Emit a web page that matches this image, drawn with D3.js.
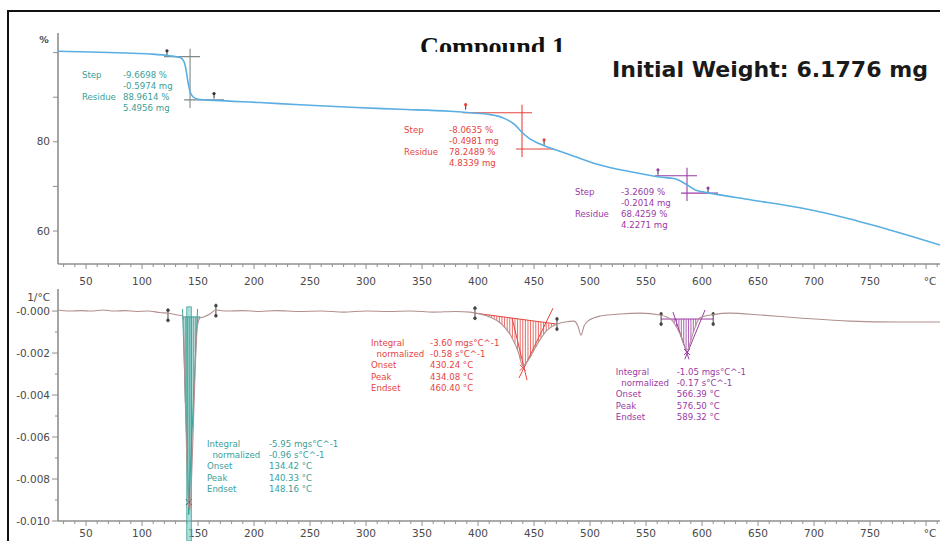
<!DOCTYPE html>
<html><head><meta charset="utf-8">
<script src="https://cdn.jsdelivr.net/npm/d3@7"></script>
<style>body{margin:0;background:#fff;overflow:hidden} svg{display:block}</style>
</head><body><svg id="c" width="940" height="541"></svg>
<script>
// ---------- DATA ----------
const title = "Compound 1";
const weightLabel = "Initial Weight: 6.1776 mg";
const tgaUnit = "%";
const dtgUnit = "1/°C";
const xUnit = "°C";

// TGA curve: temperature (°C) and weight (%)
const tgaT = [25,45,62.5,85,107,125,134,137.5,139.3,141,143,145.5,150,165,205,241,286,330,375,393,411,424,433,439,446,455,464,482,509,536,562.5,576,585,594,607,643,687.5,732,777,812.5];
const tgaW = [100.3,100.2,100.1,99.9,99.7,99.3,98.9,98.0,96.2,93.5,91.2,90.1,89.55,89.3,88.8,88.3,87.75,87.3,86.85,86.5,86.1,85.2,83.8,82.2,80.7,79.55,78.65,77.1,74.8,73.3,72.1,71.7,70.6,69.2,68.5,67.0,65.2,62.7,59.55,56.85];

// DTG curve: temperature (°C) and derivative (1/°C)
const dtgT = [25,35,45,55,65,75,85,95,105,116,125,132,136.6,138.4,140.2,141.5,142.9,144.2,146.0,147.8,149.6,151.8,155,160.7,166,175,190,205,220,240,260,280,300,320,340,360,380,393,402,411,420,429,436,440,446,454,462,470.5,478,485.7,489.3,492,494.6,498,509,527,545,562.5,573,580,586.6,592,598,610,625,652,687,732,777,812.5];
const dtgV = [0.00005,0,0.00002,0,0.00005,0,0.00002,-0.00002,0,-0.00007,-0.00012,-0.00019,-0.00024,-0.00376,-0.00733,-0.00924,-0.00948,-0.00805,-0.00519,-0.00233,-0.00067,-0.00033,-0.00028,-0.00014,0.00005,0,0.00002,-0.00002,0.00002,-0.00002,0,-0.00005,0,-0.00002,0,-0.00005,-0.00002,-0.00005,-0.00014,-0.00029,-0.00057,-0.00114,-0.00195,-0.00262,-0.00224,-0.00148,-0.0009,-0.00062,-0.00052,-0.00048,-0.00072,-0.00115,-0.00072,-0.00048,-0.00024,-0.00014,-0.0001,-0.00019,-0.00043,-0.00105,-0.00186,-0.00105,-0.00033,-0.00017,-0.0001,-0.00019,-0.00033,-0.00048,-0.00052,-0.00052];

// Axis ticks
const xTickValues = [50,100,150,200,250,300,350,400,450,500,550,600,650,700,750];
const xTickLabels = ["50","100","150","200","250","300","350","400","450","500","550","600","650","700","750"];
const tgaTickValues = [60,80];
const tgaTickLabels = ["60","80"];
const tgaMinorTicks = [60,70,80,90,100];
const dtgTickValues = [0,-0.002,-0.004,-0.006,-0.008,-0.010];
const dtgTickLabels = ["-0.000","-0.002","-0.004","-0.006","-0.008","-0.010"];
const dtgMinorTicks = [-0.001,-0.003,-0.005,-0.007,-0.009];

// TGA step evaluations
const stepNames = ["Step","","Residue",""];
const step1Values = ["-9.6698 %","-0.5974 mg","88.9614 %","5.4956 mg"];
const step2Values = ["-8.0635 %","-0.4981 mg","78.2489 %","4.8339 mg"];
const step3Values = ["-3.2609 %","-0.2014 mg","68.4259 %","4.2271 mg"];
// limits [T start, W start, T end, W end], crosshair [T, W upper, W lower]
const step1Limits = [122.3,99.3,164.3,89.7];
const step2Limits = [389,87.2,459,79.3];
const step3Limits = [560.7,72.6,605.4,68.5];
const step1Cross = [142.9,99.1,89.4];
const step2Cross = [439.3,86.5,78.4];
const step3Cross = [586.6,72.4,68.5];

// DTG peak evaluations
const peakNames = ["Integral","  normalized","Onset","Peak","Endset"];
const peak1Values = ["-5.95 mgs°C^-1","-0.96 s°C^-1","134.42 °C","140.33 °C","148.16 °C"];
const peak2Values = ["-3.60 mgs°C^-1","-0.58 s°C^-1","430.24 °C","434.08 °C","460.40 °C"];
const peak3Values = ["-1.05 mgs°C^-1","-0.17 s°C^-1","566.39 °C","576.50 °C","589.32 °C"];
// limits [T start, base start, T end, base end]
const peak1Limits = [123.2,-0.0002,166,0.00002];
const peak2Limits = [397.3,-0.0001,470.5,-0.00062];
const peak3Limits = [563.5,-0.00038,610,-0.00038];
const peak1Base = [136,-0.00028,152,-0.00028];
const peak3Base = [563.5,-0.00038,610,-0.00038];
// tangents [T1,V1,T2,V2]
const peak1Tangents = [[136.2,0.0001,142.0,-0.0097],[149.6,0.0001,141.4,-0.0097]];
const peak2Tangents = [[467,0.00014,436.6,-0.00319],[430.4,-0.00033,443.8,-0.00329]];
const peak3Tangents = [[574.1,-0.00005,588.4,-0.0023],[602.7,0.00005,584.6,-0.0023]];
const peakX = [[141.8,-0.0091],[440,-0.0027],[586.6,-0.00195]];
const peak1Band = [140.0,144.0];

// ---------- DRAW ----------
const svg = d3.select("#c");
const W = 940, H = 541;
const colTeal = "#3aa099", colRed = "#e6443e", colPurple = "#9b3aa5";
const axisCol = "#8f8f8f", textCol = "#4a4a4a";
const fontAx = "DejaVu Sans, Verdana, sans-serif";

const x = d3.scaleLinear().domain([25, 812.5]).range([58, 940]);
const yT = d3.scaleLinear().domain([52.6, 104.4]).range([264, 33]);
const yD = d3.scaleLinear().domain([-0.010, 0.00105]).range([521, 289]);

// frame
svg.append("line").attr("x1",8).attr("x2",W).attr("y1",11).attr("y2",11).attr("stroke","#111").attr("stroke-width",2);
svg.append("line").attr("x1",8).attr("x2",8).attr("y1",10).attr("y2",H).attr("stroke","#111").attr("stroke-width",2);

// title (clipped)
svg.append("clipPath").attr("id","tclip").append("rect").attr("x",380).attr("y",20).attr("width",220).attr("height",32);
svg.append("text").attr("clip-path","url(#tclip)").attr("x",420).attr("y",55)
  .attr("font-family","Liberation Serif, Times New Roman, serif").attr("font-weight","bold")
  .attr("font-size",25).attr("textLength",145).attr("lengthAdjust","spacingAndGlyphs").attr("fill","#111").text(title);
svg.append("text").attr("x",612).attr("y",77)
  .attr("font-family","DejaVu Sans, Verdana, sans-serif").attr("font-weight","bold")
  .attr("font-size",22).attr("textLength",316).attr("lengthAdjust","spacingAndGlyphs").attr("fill","#1a1a1a").text(weightLabel);

function drawXAxis(y0, labelY){
  const g = svg.append("g");
  g.append("line").attr("x1",58).attr("x2",W).attr("y1",y0).attr("y2",y0).attr("stroke",axisCol).attr("stroke-width",1.6);
  const minor = d3.range(30, 811, 10);
  g.selectAll("line.mn").data(minor).join("line").attr("class","mn")
    .attr("x1",d=>x(d)).attr("x2",d=>x(d)).attr("y1",y0).attr("y2",d=> y0 + (d%50===0?5:3))
    .attr("stroke",axisCol).attr("stroke-width",1);
  g.selectAll("text").data(xTickValues).join("text")
    .attr("x",d=>x(d)).attr("y",labelY).attr("text-anchor","middle")
    .attr("font-family",fontAx).attr("font-size",10.5).attr("fill",textCol)
    .text((d,i)=>xTickLabels[i]);
  g.append("text").attr("x",x(800)+4).attr("y",labelY).attr("text-anchor","middle")
    .attr("font-family",fontAx).attr("font-size",10.5).attr("fill",textCol).text(xUnit);
}

// ----- top panel axes -----
svg.append("line").attr("x1",58).attr("x2",58).attr("y1",33).attr("y2",264).attr("stroke",axisCol).attr("stroke-width",1.6);
svg.selectAll("line.tmn").data(tgaMinorTicks).join("line").attr("class","tmn")
  .attr("x1",53).attr("x2",58).attr("y1",d=>yT(d)).attr("y2",d=>yT(d)).attr("stroke",axisCol);
svg.selectAll("text.tyl").data(tgaTickValues).join("text").attr("class","tyl")
  .attr("x",50).attr("y",d=>yT(d)).attr("dy","0.35em").attr("text-anchor","end")
  .attr("font-family",fontAx).attr("font-size",10.5).attr("fill",textCol).text((d,i)=>tgaTickLabels[i]);
svg.append("text").attr("x",44).attr("y",40).attr("dy","0.35em").attr("text-anchor","middle")
  .attr("font-family",fontAx).attr("font-size",9.5).attr("font-weight","bold").attr("fill",textCol).text(tgaUnit);
drawXAxis(264, 285);

// ----- bottom panel axes -----
svg.append("line").attr("x1",58).attr("x2",58).attr("y1",289).attr("y2",521).attr("stroke",axisCol).attr("stroke-width",1.6);
svg.selectAll("line.dmj").data(dtgTickValues).join("line").attr("class","dmj")
  .attr("x1",52).attr("x2",58).attr("y1",d=>yD(d)).attr("y2",d=>yD(d)).attr("stroke",axisCol);
svg.selectAll("line.dmn").data(dtgMinorTicks).join("line").attr("class","dmn")
  .attr("x1",55).attr("x2",58).attr("y1",d=>yD(d)).attr("y2",d=>yD(d)).attr("stroke",axisCol);
svg.selectAll("text.dyl").data(dtgTickValues).join("text").attr("class","dyl")
  .attr("x",50).attr("y",d=>yD(d)).attr("dy","0.35em").attr("text-anchor","end")
  .attr("font-family",fontAx).attr("font-size",10.5).attr("fill",textCol).text((d,i)=>dtgTickLabels[i]);
svg.append("text").attr("x",50).attr("y",297).attr("dy","0.35em").attr("text-anchor","end")
  .attr("font-family",fontAx).attr("font-size",10.5).attr("fill",textCol).text(dtgUnit);
drawXAxis(521, 537);

// ----- TGA curve -----
const tga = tgaT.map((t,i)=>[t,tgaW[i]]);
const lineT = d3.line().x(d=>x(d[0])).y(d=>yT(d[1])).curve(d3.curveMonotoneX);

function stepAnnot(limits, cross, vals, col, crossCol, textT, textW, dx){
  const g = svg.append("g");
  const xc = x(cross[0]);
  g.append("line").attr("x1",xc).attr("x2",xc).attr("y1",yT(cross[1])-8).attr("y2",yT(cross[2])+8).attr("stroke",crossCol).attr("stroke-width",1.1);
  g.append("line").attr("x1",x(limits[0])-3).attr("x2",xc+10).attr("y1",yT(cross[1])).attr("y2",yT(cross[1])).attr("stroke",crossCol).attr("stroke-width",1.1);
  g.append("line").attr("x1",xc-6).attr("x2",x(limits[2])+10).attr("y1",yT(cross[2])).attr("y2",yT(cross[2])).attr("stroke",crossCol).attr("stroke-width",1.1);
  [[limits[0],limits[1]],[limits[2],limits[3]]].forEach(p=>{
    const px=x(p[0]), py=yT(p[1]);
    g.append("line").attr("x1",px).attr("x2",px).attr("y1",py-5).attr("y2",py).attr("stroke","#333").attr("stroke-width",1);
    g.append("circle").attr("cx",px).attr("cy",py-5).attr("r",1.6).attr("fill",col==colTeal?"#333":col);
  });
  const x0 = x(textT), y0 = yT(textW);
  stepNames.forEach((n,i)=>{
    g.append("text").attr("x",x0).attr("y",y0+i*11).attr("dy","0.35em").attr("font-family",fontAx)
      .attr("font-size",8.6).attr("fill",col).text(n);
    g.append("text").attr("x",x0+dx).attr("y",y0+i*11).attr("dy","0.35em").attr("font-family",fontAx)
      .attr("font-size",8.6).attr("fill",col).text(vals[i]);
  });
}
stepAnnot(step1Limits, step1Cross, step1Values, colTeal, "#7d8a89", 46.4, 95.0, 41);
stepAnnot(step2Limits, step2Cross, step2Values, colRed, colRed, 334, 82.7, 45);
stepAnnot(step3Limits, step3Cross, step3Values, colPurple, colPurple, 486.6, 68.76, 46);

svg.append("path").datum(tga).attr("d",lineT).attr("fill","none").attr("stroke","#5aaee2").attr("stroke-width",1.6);

// ----- DTG -----
const dtg = dtgT.map((t,i)=>[t,dtgV[i]]);
const lineD = d3.line().x(d=>x(d[0])).y(d=>yD(d[1])).curve(d3.curveMonotoneX);
const pathTmp = svg.append("path").datum(dtg).attr("d",lineD).attr("fill","none").attr("stroke","none");
const pnode = pathTmp.node(); const plen = pnode.getTotalLength();
const samples = d3.range(0, plen, 0.5).map(l=>pnode.getPointAtLength(l));
function curveYAt(px){ let best=samples[0]; for(const s of samples){ if(Math.abs(s.x-px)<Math.abs(best.x-px)) best=s; } return best.y; }

function peakAnnot(limits, base, tangents, xm, vals, col, textT, textV, dx, hatchStep, fillCol, band){
  const g = svg.append("g");
  const bx1=x(base[0]), by1=yD(base[1]), bx2=x(base[2]), by2=yD(base[3]);
  const baseY = px => by1 + (by2-by1)*(px-bx1)/(bx2-bx1);
  if(fillCol){
    const pts=[]; for(let px=bx1; px<=bx2; px+=0.5){ pts.push([px, Math.max(baseY(px), curveYAt(px))]); }
    const back=[]; for(let px=bx2; px>=bx1; px-=0.5){ back.push([px, baseY(px)]); }
    g.append("path").attr("d", d3.line()(pts.concat(back))+"Z").attr("fill",fillCol).attr("stroke","none");
  }
  if(band){
    g.append("rect").attr("x",x(band[0])).attr("y",yD(0.0002)).attr("width",x(band[1])-x(band[0])).attr("height",H-yD(0.0002))
      .attr("fill","rgba(110,200,192,0.55)").attr("stroke",col).attr("stroke-width",0.8);
  }
  for(let px=bx1+1; px<bx2; px+=hatchStep){
    const cy=curveYAt(px), by=baseY(px);
    if(cy>by+0.5) g.append("line").attr("x1",px).attr("x2",px).attr("y1",by).attr("y2",cy).attr("stroke",col).attr("stroke-width",0.8);
  }
  g.append("line").attr("x1",bx1).attr("x2",bx2).attr("y1",by1).attr("y2",by2).attr("stroke",col).attr("stroke-width",1);
  tangents.forEach(t=>g.append("line").attr("x1",x(t[0])).attr("y1",yD(t[1])).attr("x2",x(t[2])).attr("y2",yD(t[3])).attr("stroke",col).attr("stroke-width",1));
  const mx=x(xm[0]), my=yD(xm[1]);
  g.append("path").attr("d",`M${mx-3},${my-3}L${mx+3},${my+3}M${mx+3},${my-3}L${mx-3},${my+3}`).attr("stroke",col==colTeal?"#2d6f6a":col).attr("stroke-width",1);
  [[limits[0],limits[1]],[limits[2],limits[3]]].forEach(p=>{
    const px=x(p[0]), py=yD(p[1]);
    g.append("line").attr("x1",px).attr("x2",px).attr("y1",py-7).attr("y2",py+7).attr("stroke","#444").attr("stroke-width",1);
    g.append("circle").attr("cx",px).attr("cy",py-5).attr("r",1.7).attr("fill","#444");
    g.append("circle").attr("cx",px).attr("cy",py+5).attr("r",1.7).attr("fill","#444");
  });
  const x0=x(textT), y0=yD(textV);
  peakNames.forEach((n,i)=>{
    g.append("text").attr("x",x0).attr("y",y0+i*11.2).attr("dy","0.35em").attr("font-family",fontAx)
      .attr("font-size",8.6).attr("fill",col).attr("xml:space","preserve").style("white-space","pre").text(n);
    g.append("text").attr("x",x0+dx).attr("y",y0+i*11.2).attr("dy","0.35em").attr("font-family",fontAx)
      .attr("font-size",8.6).attr("fill",col).text(vals[i]);
  });
  return g;
}

peakAnnot(peak1Limits, peak1Base, peak1Tangents, peakX[0], peak1Values, colTeal, 158, -0.00633, 62, 2, "rgba(170,205,200,0.6)", peak1Band);
peakAnnot(peak2Limits, peak2Limits, peak2Tangents, peakX[1], peak2Values, colRed, 304.5, -0.00152, 59, 2.6, null, null);
peakAnnot(peak3Limits, peak3Base, peak3Tangents, peakX[2], peak3Values, colPurple, 523, -0.0029, 61, 2.4, null, null);
svg.append("path").datum(dtg).attr("d",lineD).attr("fill","none").attr("stroke","#b39090").attr("stroke-width",1.1);
</script></body></html>
